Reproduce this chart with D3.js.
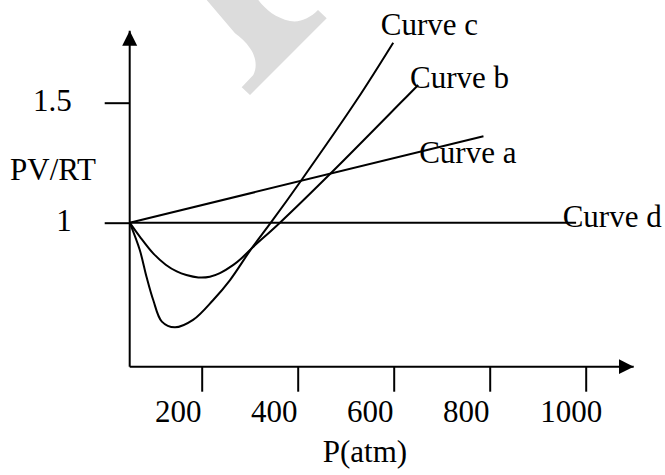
<!DOCTYPE html>
<html>
<head>
<meta charset="utf-8">
<script src="https://cdn.jsdelivr.net/npm/d3@7"></script>
<style>
  body { margin: 0; background: #fff; }
  text { font-family: "Liberation Serif", "Times New Roman", serif; font-size: 31px; fill: #000; }
</style>
</head>
<body>
<div id="graph"></div>
<script>
// tick values / labels
const pTicks = [200, 400, 600, 800, 1000];
const ratioTicks = [1, 1.5];
const ratioLabels = ['1', '1.5'];

// curves (P in atm, PV/RT)
const curveNames = ['Curve a', 'Curve b', 'Curve c', 'Curve d'];
const aP = [50, 787];
const aV = [1, 1.36];
const bP = [50, 71, 99, 125, 148, 168, 193, 217, 238, 266, 283, 304, 363, 471, 620, 651];
const bV = [1, 0.942, 0.872, 0.825, 0.797, 0.782, 0.772, 0.775, 0.79, 0.824, 0.852, 0.893, 1.0, 1.21, 1.511, 1.574];
const cP = [50, 71, 85, 99, 117, 144, 182, 224, 259, 304, 344, 408, 523, 599];
const cV = [1, 0.886, 0.775, 0.678, 0.588, 0.564, 0.595, 0.678, 0.761, 0.893, 1.0, 1.178, 1.511, 1.75];
const dP = [50, 980];
const dV = [1, 1];

// where each curve's name sits (data units)
const labelP = [653, 634, 573, 952];
const labelV = [1.249, 1.561, 1.782, 0.981];

const width = 665, height = 475;

const x = d3.scaleLinear().domain([0, 1100]).range([105.7, 633.7]);
const y = d3.scaleLinear().domain([0.4, 1.8]).range([366.7, 30.7]);

const svg = d3.select('#graph')
    .append('svg')
    .attr('width', width)
    .attr('height', height);

// light watermark in the background
svg.append('path')
    .attr('d', 'M206.7,0 L258.3,0 C266,10 276,18 290,21 C300,23 310,18 318,10 L326.7,18.3 L250,95 L241.7,87.3 L253.3,75 C258,66 255,55 250,48.3 C246,42 240,37 235,33.3 Z')
    .attr('fill', '#dcdcdc');

svg.append('defs').append('marker')
    .attr('id', 'arrow')
    .attr('markerUnits', 'userSpaceOnUse')
    .attr('markerWidth', 16)
    .attr('markerHeight', 16)
    .attr('viewBox', '0 -8 16 16')
    .attr('refX', 15)
    .attr('refY', 0)
    .attr('orient', 'auto')
    .append('path')
    .attr('d', 'M0,-7.5L15,0L0,7.5Z')
    .attr('fill', '#000');

// axes lines with arrow heads
svg.append('line')
    .attr('x1', x(50)).attr('y1', y(0.4))
    .attr('x2', x(1100)).attr('y2', y(0.4))
    .attr('stroke', '#000').attr('stroke-width', 2)
    .attr('marker-end', 'url(#arrow)');

svg.append('line')
    .attr('x1', x(50)).attr('y1', y(0.4))
    .attr('x2', x(50)).attr('y2', y(1.8))
    .attr('stroke', '#000').attr('stroke-width', 2)
    .attr('marker-end', 'url(#arrow)');

const xAxis = d3.axisBottom(x)
    .tickValues(pTicks)
    .tickSize(25)
    .tickPadding(8)
    .tickFormat(d3.format('d'));

const gx = svg.append('g')
    .attr('transform', 'translate(0,' + y(0.4) + ')')
    .call(xAxis);
gx.select('.domain').remove();
gx.selectAll('line').attr('stroke', '#000').attr('stroke-width', 2);
gx.selectAll('text')
    .attr('dx', (d) => d === 1000 ? -15 : -24)
    .style('font-size', '31px')
    .style('font-family', '"Liberation Serif", serif');

const yAxis = d3.axisLeft(y)
    .tickValues(ratioTicks)
    .tickSize(25)
    .tickPadding(33)
    .tickFormat((d, i) => ratioLabels[i]);

const gy = svg.append('g')
    .attr('transform', 'translate(' + x(50) + ',0)')
    .call(yAxis);
gy.select('.domain').remove();
gy.selectAll('line').attr('stroke', '#000').attr('stroke-width', 2);
gy.selectAll('text')
    .attr('dy', '0.26em')
    .style('font-size', '31px')
    .style('font-family', '"Liberation Serif", serif');

// axis titles
svg.append('text')
    .attr('x', 10)
    .attr('y', 180)
    .text('PV/RT');

svg.append('text')
    .attr('x', x(540))
    .attr('y', 462)
    .attr('text-anchor', 'middle')
    .text('P(atm)');

// curves
const series = [
    d3.zip(aP, aV),
    d3.zip(bP, bV),
    d3.zip(cP, cV),
    d3.zip(dP, dV)
];

const line = d3.line()
    .x((d) => x(d[0]))
    .y((d) => y(d[1]))
    .curve(d3.curveCatmullRom.alpha(0.5));

svg.selectAll('.curve')
    .data(series)
    .enter()
    .append('path')
    .attr('class', 'curve')
    .attr('d', line)
    .attr('fill', 'none')
    .attr('stroke', '#000')
    .attr('stroke-width', 2);

svg.selectAll('.curve-label')
    .data(curveNames)
    .enter()
    .append('text')
    .attr('class', 'curve-label')
    .attr('x', (d, i) => x(labelP[i]))
    .attr('y', (d, i) => y(labelV[i]))
    .text((d) => d);
</script>
</body>
</html>
